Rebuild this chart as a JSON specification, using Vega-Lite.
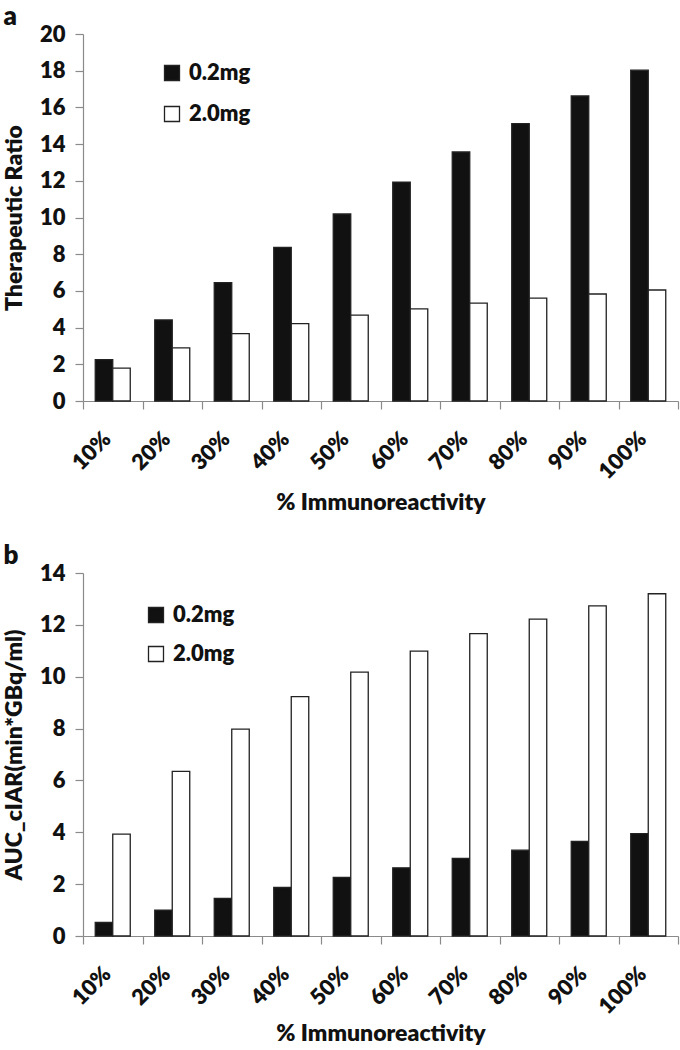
{
  "$schema": "https://vega.github.io/schema/vega-lite/v6.json",
  "background": "white",
  "padding": {"left": 3, "top": 4, "right": 2, "bottom": 0},
  "spacing": 28,
  "config": {
    "font": "Lato",
    "view": {"stroke": null},
    "axis": {
      "domainColor": "#8a8a8a",
      "tickColor": "#8a8a8a",
      "domainWidth": 1.2,
      "tickWidth": 1.2,
      "labelColor": "#111111",
      "titleColor": "#111111",
      "labelFont": "Lato",
      "titleFont": "Lato",
      "labelFontWeight": 800,
      "titleFontWeight": 800,
      "grid": false
    },
    "legend": {
      "symbolType": "square",
      "symbolSize": 225,
      "symbolStrokeColor": "#222222",
      "symbolStrokeWidth": 1.3,
      "labelFont": "Lato",
      "labelFontSize": 22,
      "labelFontWeight": 800,
      "labelColor": "#111111",
      "labelOffset": 6,
      "padding": 0
    },
    "title": {
      "anchor": "start",
      "frame": "bounds",
      "fontSize": 26,
      "fontWeight": 800,
      "font": "Lato",
      "color": "#111111",
      "offset": -7
    }
  },
  "datasets": {
    "ratio": [
      {"ir": "10%", "dose": "0.2mg", "value": 2.26},
      {"ir": "10%", "dose": "2.0mg", "value": 1.79},
      {"ir": "20%", "dose": "0.2mg", "value": 4.42},
      {"ir": "20%", "dose": "2.0mg", "value": 2.90},
      {"ir": "30%", "dose": "0.2mg", "value": 6.45},
      {"ir": "30%", "dose": "2.0mg", "value": 3.67},
      {"ir": "40%", "dose": "0.2mg", "value": 8.37},
      {"ir": "40%", "dose": "2.0mg", "value": 4.22},
      {"ir": "50%", "dose": "0.2mg", "value": 10.19},
      {"ir": "50%", "dose": "2.0mg", "value": 4.68},
      {"ir": "60%", "dose": "0.2mg", "value": 11.93},
      {"ir": "60%", "dose": "2.0mg", "value": 5.02},
      {"ir": "70%", "dose": "0.2mg", "value": 13.57},
      {"ir": "70%", "dose": "2.0mg", "value": 5.33},
      {"ir": "80%", "dose": "0.2mg", "value": 15.12},
      {"ir": "80%", "dose": "2.0mg", "value": 5.61},
      {"ir": "90%", "dose": "0.2mg", "value": 16.62},
      {"ir": "90%", "dose": "2.0mg", "value": 5.83},
      {"ir": "100%", "dose": "0.2mg", "value": 18.03},
      {"ir": "100%", "dose": "2.0mg", "value": 6.05}
    ],
    "auc": [
      {"ir": "10%", "dose": "0.2mg", "value": 0.52},
      {"ir": "10%", "dose": "2.0mg", "value": 3.93},
      {"ir": "20%", "dose": "0.2mg", "value": 1.0},
      {"ir": "20%", "dose": "2.0mg", "value": 6.35},
      {"ir": "30%", "dose": "0.2mg", "value": 1.45},
      {"ir": "30%", "dose": "2.0mg", "value": 7.98},
      {"ir": "40%", "dose": "0.2mg", "value": 1.87},
      {"ir": "40%", "dose": "2.0mg", "value": 9.23},
      {"ir": "50%", "dose": "0.2mg", "value": 2.26},
      {"ir": "50%", "dose": "2.0mg", "value": 10.18},
      {"ir": "60%", "dose": "0.2mg", "value": 2.63},
      {"ir": "60%", "dose": "2.0mg", "value": 10.99},
      {"ir": "70%", "dose": "0.2mg", "value": 2.99},
      {"ir": "70%", "dose": "2.0mg", "value": 11.66},
      {"ir": "80%", "dose": "0.2mg", "value": 3.31},
      {"ir": "80%", "dose": "2.0mg", "value": 12.22},
      {"ir": "90%", "dose": "0.2mg", "value": 3.65},
      {"ir": "90%", "dose": "2.0mg", "value": 12.73},
      {"ir": "100%", "dose": "0.2mg", "value": 3.95},
      {"ir": "100%", "dose": "2.0mg", "value": 13.2}
    ]
  },
  "vconcat": [
    {
      "title": {"text": "a"},
      "width": 595,
      "height": 367,
      "data": {"name": "ratio"},
      "mark": {"type": "bar", "stroke": "#222222", "strokeWidth": 1.3},
      "encoding": {
        "x": {
          "field": "ir", "type": "nominal", "sort": null,
          "scale": {"paddingInner": 0, "paddingOuter": 0},
          "axis": {
            "title": "% Immunoreactivity",
            "labelAngle": -45, "labelAlign": "right", "labelBaseline": "middle",
            "tickBand": "extent", "tickSize": 8, "labelPadding": 26, "labelOffset": -6,
            "labelFontSize": 22, "titleFontSize": 23, "titlePadding": 9
          }
        },
        "xOffset": {
          "field": "dose", "type": "nominal", "sort": ["0.2mg", "2.0mg"],
          "scale": {"paddingInner": 0, "paddingOuter": 0.7}
        },
        "y": {
          "field": "value", "type": "quantitative",
          "scale": {"domain": [0, 20], "nice": false},
          "axis": {
            "title": "Therapeutic Ratio",
            "values": [0, 2, 4, 6, 8, 10, 12, 14, 16, 18, 20],
            "tickSize": 8, "labelPadding": 10,
            "labelFontSize": 22, "titleFontSize": 23, "titlePadding": 13
          }
        },
        "color": {
          "field": "dose", "type": "nominal",
          "scale": {"domain": ["0.2mg", "2.0mg"], "range": ["#111111", "#ffffff"]},
          "legend": {"title": null, "orient": "none", "legendX": 78, "legendY": 28, "rowPadding": 19}
        }
      }
    },
    {
      "title": {"text": "b"},
      "width": 595,
      "height": 363,
      "data": {"name": "auc"},
      "mark": {"type": "bar", "stroke": "#222222", "strokeWidth": 1.3},
      "encoding": {
        "x": {
          "field": "ir", "type": "nominal", "sort": null,
          "scale": {"paddingInner": 0, "paddingOuter": 0},
          "axis": {
            "title": "% Immunoreactivity",
            "labelAngle": -45, "labelAlign": "right", "labelBaseline": "middle",
            "tickBand": "extent", "tickSize": 8, "labelPadding": 26, "labelOffset": -6,
            "labelFontSize": 22, "titleFontSize": 23, "titlePadding": 5
          }
        },
        "xOffset": {
          "field": "dose", "type": "nominal", "sort": ["0.2mg", "2.0mg"],
          "scale": {"paddingInner": 0, "paddingOuter": 0.7}
        },
        "y": {
          "field": "value", "type": "quantitative",
          "scale": {"domain": [0, 14], "nice": false},
          "axis": {
            "title": "AUC_cIAR(min*GBq/ml)",
            "values": [0, 2, 4, 6, 8, 10, 12, 14],
            "tickSize": 8, "labelPadding": 10,
            "labelFontSize": 22, "titleFontSize": 23, "titlePadding": 13
          }
        },
        "color": {
          "field": "dose", "type": "nominal",
          "scale": {"domain": ["0.2mg", "2.0mg"], "range": ["#111111", "#ffffff"]},
          "legend": {"title": null, "orient": "none", "legendX": 62, "legendY": 31, "rowPadding": 17}
        }
      }
    }
  ],
  "resolve": {
    "scale": {"color": "independent", "y": "independent", "x": "independent", "xOffset": "independent"},
    "legend": {"color": "independent"}
  }
}
